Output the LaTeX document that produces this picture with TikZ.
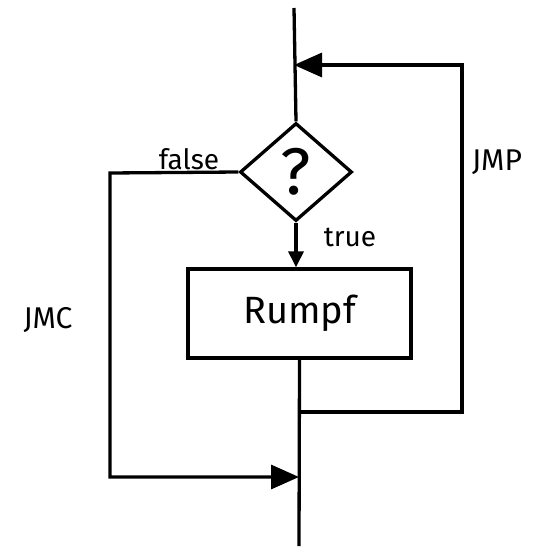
\documentclass[tikz,border=0pt]{standalone}
\usepackage{fontspec}
\setmainfont{Fira Sans}
\usetikzlibrary{shapes.geometric,arrows.meta}
\tikzset{
  line/.style={line width=3.3pt},
  decision/.style={diamond, draw, line width=3.3pt, minimum width=112pt, minimum height=98pt, inner sep=0pt},
  body/.style={rectangle, draw, line width=3.3pt, minimum width=223pt, minimum height=89pt, inner sep=0pt},
  lbl/.style={font=\fontsize{28}{30}\selectfont, inner sep=0pt},
  jlbl/.style={font=\fontsize{30}{32}\selectfont, inner sep=0pt},
  bigtip/.style={-{Triangle[length=28pt,width=24pt]}},
  smalltip/.style={-{Triangle[length=16pt,width=15pt]}}
}
\begin{document}
\begin{tikzpicture}[x=1pt,y=-1pt]
\useasboundingbox (0,0) rectangle (546,548);
\node[decision] (q) at (296,172) {\fontsize{66}{70}\selectfont ?};
\node[body] (b) at (299.5,313.5) {\fontsize{38}{40}\selectfont Rumpf};
\coordinate (top) at (294,8);
\coordinate (t1) at (294,65);
\coordinate (r3) at (462,65);
\coordinate (r2) at (462,412);
\coordinate (r1) at (299,412);
\coordinate (bot) at (299,546);
\coordinate (l1) at (110,173);
\coordinate (l2) at (110,477);
\coordinate (m1) at (299,477);
\draw[line] (top) -- (q.north);
\draw[line,smalltip] (q.south) -- (q.south |- b.north);
\draw[line] (b.south) -- (bot);
\draw[line,bigtip] (r1) -- (r2) -- (r3) -- (t1);
\draw[line,bigtip] (q.west) -- (l1) -- (l2) -- (m1);
\node[lbl, anchor=base] (f) at (189,169) {false};
\node[lbl, anchor=base] (t) at (350,246) {true};
\node[jlbl, anchor=base] (jmp) at (497,171) {JMP};
\node[jlbl, anchor=base] (jmc) at (48,328) {JMC};
\end{tikzpicture}
\end{document}
